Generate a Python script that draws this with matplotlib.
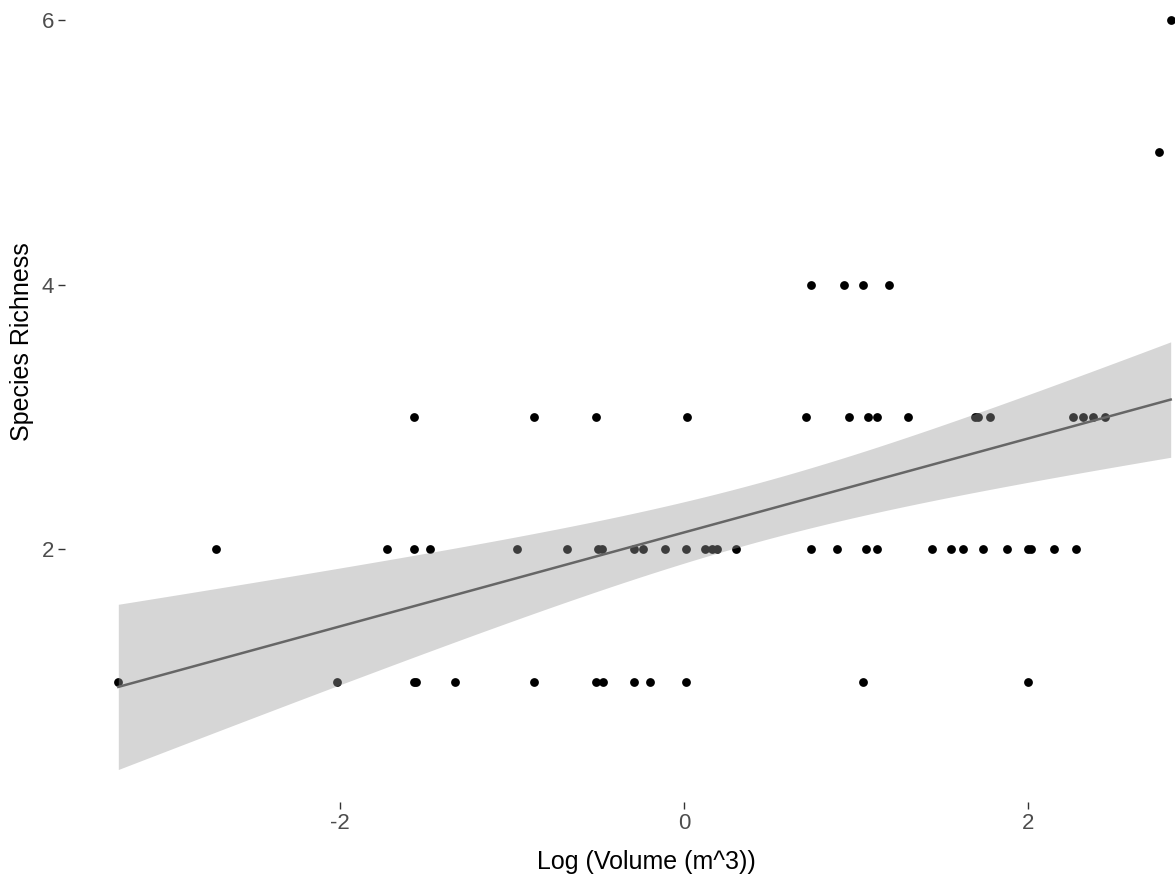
import numpy as np
import matplotlib
matplotlib.use("Agg")
import matplotlib.pyplot as plt

plt.rcParams['font.family'] = ['Liberation Sans', 'DejaVu Sans']
plt.rcParams['axes.unicode_minus'] = False

# log volume of each sample, grouped by its species richness
rich_1 = [-3.29, -2.02, -1.57, -1.56, -1.33, -0.87, -0.51, -0.47, -0.29, -0.20, 0.01, 1.04, 2.00]
rich_2 = [-2.72, -1.73, -1.57, -1.48, -0.97, -0.68, -0.50, -0.48, -0.29, -0.24, -0.11, 0.01,
          0.12, 0.16, 0.19, 0.30, 0.74, 0.89, 1.06, 1.12, 1.44, 1.55, 1.62, 1.74, 1.88,
          2.00, 2.02, 2.15, 2.28]
rich_3 = [-1.57, -0.87, -0.51, 0.02, 0.71, 0.96, 1.07, 1.12, 1.30, 1.69, 1.71, 1.78,
          2.26, 2.32, 2.38, 2.45]
rich_4 = [0.74, 0.93, 1.04, 1.19]
rich_5 = [2.76]
rich_6 = [2.83]

groups = [rich_1, rich_2, rich_3, rich_4, rich_5, rich_6]
x = np.concatenate([np.array(g) for g in groups])
y = np.concatenate([np.full(len(g), i + 1.0) for i, g in enumerate(groups)])

# linear fit with 95% confidence band
n = len(x)
slope, icept = np.polyfit(x, y, 1)
resid = y - (icept + slope * x)
s = np.sqrt(np.sum(resid ** 2) / (n - 2))
xs = np.linspace(x.min(), x.max(), 80)
fit = icept + slope * xs
se = s * np.sqrt(1 / n + (xs - x.mean()) ** 2 / np.sum((x - x.mean()) ** 2))
tcrit = 2.0

fig = plt.figure(figsize=(11.75, 8.88), dpi=100)
W, H = 1175, 888
# panel extends slightly past the top and right edges
left, right, bottom, top = 65, 1224, 802, -17
ax = fig.add_axes([left / W, 1 - bottom / H, (right - left) / W, (bottom - top) / H])

ax.scatter(x, y, s=40, color='black', linewidths=0, zorder=2)
ax.fill_between(xs, fit - tcrit * se, fit + tcrit * se, color='#999999', alpha=0.4,
                linewidth=0, zorder=3)
ax.plot(xs, fit, color='#666666', linewidth=1.8, zorder=4)

ax.set_xlim(-3.6, 3.14)
ax.set_ylim(0.09, 6.28)
ax.set_xticks([-2, 0, 2])
ax.set_yticks([2, 4, 6])
for sp in ax.spines.values():
    sp.set_visible(False)
ax.tick_params(length=5, width=1, color='#333333', labelcolor='#4D4D4D',
               labelsize=16, pad=3)

fig.text(646 / W, 1 - 862 / H, 'Log (Volume (m^3))', ha='center', va='center',
         fontsize=18, color='black')
fig.text(22 / W, 1 - 342 / H, 'Species Richness', ha='center', va='center',
         rotation=90, fontsize=18, color='black')

fig.savefig('out.png', dpi=100, facecolor='white')
